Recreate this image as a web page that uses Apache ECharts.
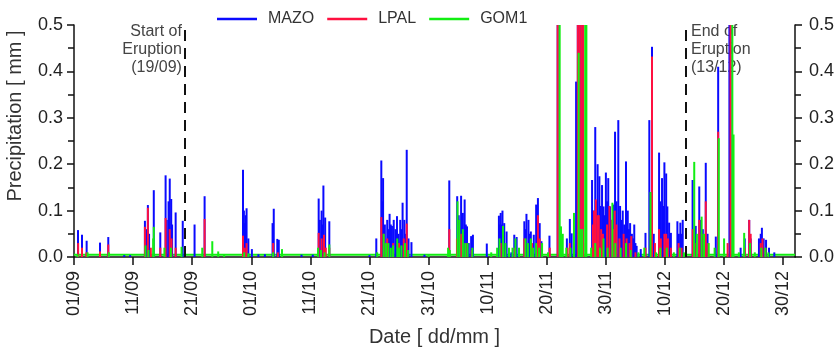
<!DOCTYPE html>
<html>
<head>
<meta charset="utf-8">
<title>Precipitation at MAZO, LPAL and GOM1</title>
<script src="https://cdn.jsdelivr.net/npm/echarts@6/dist/echarts.min.js"></script>
<style>
  html, body { margin: 0; padding: 0; background: #fff; }
  #chart { width: 838px; height: 348px; }
</style>
</head>
<body>
<div id="chart"></div>
<script>
// Time is counted in days since 01/09 00:00; the axis runs to 01/01.
const dayStart = 0;
const dayEnd = 122;
const tickDays = [0, 10, 20, 30, 40, 50, 60, 70, 80, 90, 100, 110, 120];
const tickLabels = ['01/09', '11/09', '21/09', '01/10', '11/10', '21/10', '31/10',
                    '10/11', '20/11', '30/11', '10/12', '20/12', '30/12'];

// Eruption start and end (days since 01/09)
const eruptionStart = 18.76;
const eruptionEnd = 103.55;

// Precipitation events [day, mm]; values above 0.5 run off the top of the axis.
const mazo = [
  [0.68,0.058],[1.35,0.048],[2.14,0.035],[4.4,0.031],[5.8,0.043],[8.5,0.004],[9.5,0.004],
  [12.0,0.078],[12.2,0.06],[12.5,0.112],[12.7,0.05],[13.5,0.144],[14.6,0.053],[15.5,0.176],[15.7,0.08],
  [16.0,0.12],[16.2,0.169],[16.45,0.125],[16.6,0.07],[17.2,0.096],[18.4,0.078],
  [20.4,0.07],[22.1,0.131],[28.6,0.188],[28.75,0.1],[28.9,0.073],[29.05,0.09],[29.2,0.105],[29.5,0.04],
  [30.1,0.017],[31.2,0.006],[32.3,0.006],
  [33.6,0.073],[33.8,0.104],[34.4,0.039],[34.65,0.037],[38.5,0.005],[40.4,0.005],
  [41.4,0.126],[41.6,0.08],[41.9,0.10],[42.05,0.07],[42.2,0.154],[42.5,0.085],[43.2,0.077],
  [50.0,0.004],[51.15,0.04],[52.0,0.208],[52.15,0.12],[52.3,0.17],[52.6,0.07],[53.0,0.08],[53.2,0.06],
  [53.4,0.093],[53.6,0.07],[53.8,0.067],[54.1,0.08],[54.4,0.06],[54.65,0.088],[54.9,0.05],[55.2,0.08],
  [55.4,0.06],[55.6,0.117],[55.9,0.08],[56.1,0.05],[56.3,0.231],[56.6,0.04],[57.1,0.032],[59.3,0.005],
  [63.5,0.165],[64.84,0.131],[65.1,0.09],[65.3,0.08],[65.5,0.132],[65.8,0.095],[66.1,0.124],[66.3,0.07],
  [66.5,0.066],[66.8,0.03],[67.2,0.045],[67.5,0.048],[69.85,0.029],
  [71.9,0.089],[72.05,0.07],[72.2,0.095],[72.35,0.07],[72.5,0.1],[72.8,0.073],[73.2,0.055],[74.0,0.01],
  [74.5,0.048],[74.9,0.043],
  [76.2,0.077],[76.4,0.06],[76.56,0.093],[76.9,0.08],[77.1,0.05],[77.3,0.055],[77.8,0.048],[78.2,0.113],
  [78.35,0.09],[78.5,0.127],[78.8,0.073],[79.1,0.034],[80.45,0.046],
  [81.84,0.6],[83.4,0.04],[83.9,0.082],[84.2,0.051],[84.96,0.378],[85.25,0.6],[85.55,0.6],[85.85,0.6],[86.15,0.6],
  [87.66,0.166],[87.9,0.1],[88.2,0.28],[88.4,0.12],[88.6,0.2],[88.9,0.174],[89.1,0.11],[89.35,0.155],
  [89.6,0.109],[89.8,0.09],[90.0,0.182],[90.2,0.12],[90.4,0.17],[90.7,0.109],[90.9,0.08],[91.2,0.113],
  [91.4,0.1],[91.55,0.27],[91.8,0.12],[92.1,0.295],[92.4,0.11],[92.6,0.08],[92.85,0.1],[93.1,0.07],
  [93.4,0.206],[93.7,0.1],[93.9,0.06],[94.1,0.073],[94.4,0.05],[94.6,0.04],[94.8,0.07],[95.0,0.03],
  [95.2,0.024],[95.9,0.017],[96.7,0.052],[97.35,0.295],[97.5,0.14],[97.8,0.453],[98.1,0.05],
  [99.0,0.225],[99.2,0.12],[99.5,0.17],[99.7,0.11],[99.9,0.204],[100.2,0.18],[100.4,0.109],[100.7,0.074],
  [101.0,0.052],[102.1,0.077],[102.35,0.05],[102.6,0.074],[102.8,0.05],[103.0,0.08],
  [104.67,0.166],[105.2,0.067],[105.8,0.152],[106.1,0.08],[106.4,0.06],[106.9,0.203],[107.2,0.05],
  [108.6,0.044],[109.0,0.41],[110.9,0.6],[111.1,0.6],[112.8,0.02],[113.5,0.04],[114.25,0.08],[114.5,0.04],
  [115.9,0.04],[116.2,0.05],[116.4,0.063],[116.7,0.04],[117.1,0.037],[117.6,0.02],[118.5,0.01]
];

const lpal = [
  [0.7,0.03],[1.35,0.02],[2.1,0.01],[4.4,0.012],[5.8,0.027],[12.0,0.065],[12.5,0.106],[13.0,0.02],
  [14.6,0.02],[15.5,0.084],[16.2,0.06],[16.5,0.04],[17.2,0.02],
  [22.1,0.082],[28.6,0.046],[28.9,0.02],[29.2,0.03],[33.7,0.03],[34.5,0.01],
  [41.4,0.052],[41.9,0.04],[42.3,0.048],[42.6,0.02],[43.2,0.02],
  [52.0,0.086],[52.4,0.05],[53.0,0.04],[54.0,0.03],[55.0,0.03],[55.8,0.04],[56.3,0.072],
  [63.5,0.06],[64.8,0.04],[65.5,0.05],[66.3,0.03],[67.3,0.015],
  [72.2,0.03],[72.6,0.025],[74.6,0.02],[76.2,0.04],[77.5,0.03],[78.5,0.09],[78.8,0.04],[80.5,0.02],
  [81.84,0.6],[83.5,0.02],[83.9,0.03],[84.6,0.03],[85.25,0.6],[85.55,0.6],[85.85,0.6],[86.15,0.6],[86.6,0.03],
  [87.8,0.07],[88.0,0.1],[88.3,0.124],[88.6,0.09],[88.8,0.09],[89.2,0.06],[89.5,0.05],[90.2,0.07],
  [90.6,0.11],[91.0,0.08],[91.2,0.06],[91.5,0.1],[91.8,0.07],[92.3,0.04],[93.0,0.05],[93.5,0.04],
  [94.0,0.03],[94.3,0.045],[95.0,0.01],[96.7,0.02],[97.8,0.432],[98.3,0.03],
  [99.0,0.06],[99.3,0.04],[99.9,0.05],[100.2,0.05],[100.5,0.04],[101.0,0.02],[102.3,0.03],[102.8,0.02],
  [104.7,0.06],[105.3,0.03],[105.8,0.08],[106.2,0.05],[106.9,0.12],[107.3,0.03],[109.0,0.27],
  [110.6,0.03],[111.1,0.6],[113.5,0.02],[114.25,0.08],[114.5,0.05],[116.2,0.03],[116.5,0.04],[117.0,0.02]
];

const gom1 = [
  [0.6,0.006],[2.3,0.01],[5.9,0.01],[12.1,0.025],[12.6,0.015],[13.4,0.04],[13.5,0.065],[15.3,0.02],
  [16.4,0.02],[18.2,0.022],
  [21.7,0.02],[23.4,0.034],[24.4,0.012],[25.4,0.005],[28.8,0.01],[29.5,0.008],[33.7,0.01],[35.2,0.017],
  [41.3,0.02],[41.8,0.015],[42.4,0.01],[43.2,0.027],
  [51.3,0.01],[52.4,0.05],[52.8,0.03],[53.2,0.03],[53.6,0.02],[54.0,0.025],[54.7,0.04],[55.0,0.02],
  [55.4,0.025],[56.0,0.03],[56.5,0.015],[60.0,0.004],
  [63.3,0.02],[63.6,0.015],[64.9,0.12],[65.2,0.08],[65.8,0.06],[66.2,0.03],[66.6,0.03],[67.4,0.02],[70.6,0.01],
  [71.6,0.02],[72.0,0.04],[72.6,0.067],[73.0,0.03],[73.6,0.02],[74.2,0.02],[74.7,0.04],[75.3,0.02],
  [76.4,0.04],[76.8,0.03],[77.3,0.04],[77.7,0.02],[78.2,0.03],[78.7,0.02],[79.2,0.03],
  [80.2,0.01],[82.18,0.6],[82.4,0.066],[82.7,0.05],[83.3,0.02],[84.0,0.02],[84.6,0.095],[85.4,0.44],
  [85.7,0.06],[86.0,0.06],[86.5,0.6],[86.7,0.6],
  [87.5,0.02],[88.2,0.03],[89.0,0.02],[89.6,0.04],[90.3,0.02],[91.1,0.117],[91.6,0.03],[92.5,0.02],
  [93.4,0.03],[94.2,0.015],[95.5,0.01],[96.5,0.02],[97.55,0.14],[98.5,0.01],
  [99.2,0.02],[100.3,0.02],[101.5,0.01],[102.5,0.02],[103.2,0.01],
  [104.95,0.205],[105.4,0.05],[106.2,0.087],[106.6,0.05],[107.4,0.03],[108.4,0.02],[109.1,0.256],
  [110.0,0.04],[111.4,0.6],[111.6,0.264],[112.5,0.01],[113.4,0.052],[114.4,0.03],[115.2,0.01],
  [116.3,0.02],[117.0,0.02],[117.5,0.01]
];

// GOM1 near-zero readings that run along the bottom of the plot
const gom1Floor = [[dayStart, 0.005], [dayEnd, 0.005]];

const colors = { MAZO: '#0a0aff', LPAL: '#ff1040', GOM1: '#12ee12' };
const FONT = 'Liberation Sans, Arial, Helvetica, sans-serif';

const chart = echarts.init(document.getElementById('chart'), null, { renderer: 'canvas' });

function spikeSeries(name, data) {
  return {
    name: name,
    type: 'bar',
    data: data,
    barWidth: 2,
    barGap: '-100%',
    clip: true,
    itemStyle: { color: colors[name] },
    emphasis: { disabled: true },
    z: 3
  };
}

const axisLine = { show: true, lineStyle: { color: '#111', width: 1.5 } };

const yAxisBase = {
  type: 'value',
  min: 0,
  max: 0.5,
  interval: 0.1,
  axisLine: axisLine,
  axisTick: { show: true, inside: false, length: 7, lineStyle: { color: '#111', width: 1.5 } },
  minorTick: { show: true, splitNumber: 2, length: 6, lineStyle: { color: '#111', width: 1.5 } },
  splitLine: { show: false },
  axisLabel: {
    fontFamily: FONT, fontSize: 18, color: '#222',
    formatter: v => v.toFixed(1)
  }
};

const option = {
  animation: false,
  backgroundColor: '#fff',
  grid: { left: 74, right: 43, top: 25, bottom: 91, containLabel: false, outerBoundsMode: 'none' },
  legend: {
    data: ['MAZO', 'LPAL', 'GOM1'],
    left: 212,
    top: 6,
    icon: 'rect',
    itemWidth: 40,
    itemHeight: 2.5,
    itemGap: 13,
    textStyle: { fontFamily: FONT, fontSize: 16, color: '#333', padding: [0, 0, 0, 6] }
  },
  xAxis: {
    type: 'value',
    min: dayStart,
    max: dayEnd,
    axisLine: axisLine,
    axisTick: { show: true, length: 8, customValues: tickDays, lineStyle: { color: '#111', width: 1.5 } },
    splitLine: { show: false },
    axisLabel: {
      customValues: tickDays,
      rotate: 90,
      margin: 14,
      fontFamily: FONT, fontSize: 18, color: '#222',
      formatter: v => tickLabels[tickDays.indexOf(Math.round(v))] || ''
    },
    name: 'Date [ dd/mm ]',
    nameLocation: 'middle',
    nameGap: 70,
    nameMoveOverlap: false,
    nameTextStyle: { fontFamily: FONT, fontSize: 20, color: '#333' }
  },
  yAxis: [
    Object.assign({}, yAxisBase, { position: 'left', axisLabel: Object.assign({}, yAxisBase.axisLabel, { margin: 11 }) }),
    Object.assign({}, yAxisBase, { position: 'right', axisLabel: Object.assign({}, yAxisBase.axisLabel, { margin: 14 }) })
  ],
  series: [
    spikeSeries('MAZO', mazo),
    spikeSeries('LPAL', lpal),
    spikeSeries('GOM1', gom1),
    {
      name: 'GOM1 floor',
      type: 'line',
      data: gom1Floor,
      symbol: 'none',
      lineStyle: { color: colors.GOM1, width: 2 },
      z: 2,
      silent: true,
      markLine: {
        silent: true,
        symbol: 'none',
        label: { show: false },
        lineStyle: { color: '#111', type: [11, 7], width: 2 },
        data: [{ xAxis: eruptionStart }, { xAxis: eruptionEnd }]
      }
    }
  ]
};

chart.setOption(option);

// Axis title and eruption notes, placed through the axis scale
function addNotes() {
  const pStart = chart.convertToPixel({ xAxisIndex: 0, yAxisIndex: 0 }, [eruptionStart, 0.5]);
  const pEnd = chart.convertToPixel({ xAxisIndex: 0, yAxisIndex: 0 }, [eruptionEnd, 0.5]);
  const noteStyle = { font: '16px ' + FONT, fill: '#444', lineHeight: 18, verticalAlign: 'top' };
  chart.setOption({
    graphic: [
      {
        type: 'text', z: 1,
        style: { text: 'Precipitation [ mm ]', font: '20px ' + FONT, fill: '#333', align: 'center', verticalAlign: 'middle' },
        x: 15, y: 116, rotation: Math.PI / 2
      },
      {
        type: 'text', z: 1, x: pStart[0] - 3, y: pStart[1] - 2,
        style: Object.assign({ text: 'Start of\nEruption\n(19/09)', align: 'right' }, noteStyle)
      },
      {
        type: 'text', z: 1, x: pEnd[0] + 5, y: pEnd[1] - 2,
        style: Object.assign({ text: 'End of\nEruption\n(13/12)', align: 'left' }, noteStyle)
      }
    ]
  });
}
addNotes();
</script>
</body>
</html>
